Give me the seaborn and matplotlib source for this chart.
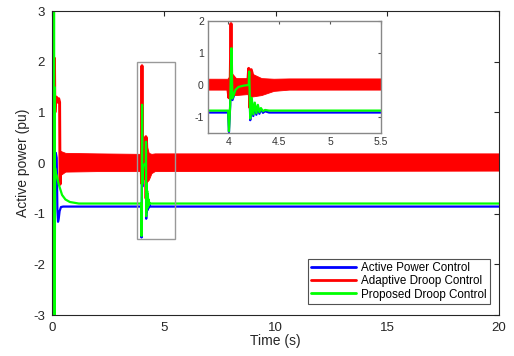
import matplotlib
matplotlib.use("Agg")
import matplotlib.pyplot as plt
import pandas as pd
import seaborn as sns
from matplotlib.patches import Rectangle

# ---- Active Power Control (blue) ----
apc_t = [0, 0.02, 0.04, 0.06, 0.08, 0.10, 0.13, 0.17, 0.21, 0.24, 0.27, 0.30, 0.34, 0.40, 0.50,
         3.998, 4.006, 4.018, 4.030, 4.040, 4.070, 4.100, 4.150, 4.200, 4.205, 4.215, 4.230,
         4.245, 4.260, 4.275, 4.290, 4.305, 4.320, 4.340, 4.360, 4.400, 20]
apc_p = [0, -2.5, 1.8, 2.3, -2.0, 1.0, -0.5, 0.2, 0.1, -0.9, -1.16, -1.1, -0.95, -0.87, -0.86,
         -0.86, -1.47, -0.65, 1.10, -0.47, -0.20, -0.10, -0.05, -0.04, 0.38, -1.10, -0.46,
         -0.97, -0.60, -0.93, -0.67, -0.90, -0.76, -0.87, -0.82, -0.86, -0.86]

# ---- Adaptive Droop Control (red): centre line ----
adc_t = [0, 0.05, 0.11, 0.13, 0.16, 0.20, 0.25, 0.30, 0.34, 0.36, 0.39,
         3.990, 4.005, 4.018, 4.026, 4.035, 4.050, 4.080, 4.120, 4.190, 4.200, 4.210,
         4.225, 4.260, 4.350, 20]
adc_p = [0, 0.5, 2.07, 1.0, 1.25, 1.3, 1.2, 1.27, 1.2, -0.42, 0.02,
         0.02, -0.40, 0.10, 1.92, -0.20, 0.25, 0.00, -0.05, 0.05, 0.52, -0.70,
         0.48, 0.05, 0.00, 0.02]

# ---- Adaptive Droop Control (red): ripple envelope ----
band_t = [0.37, 0.60, 2.00, 3.995, 4.040, 4.080, 4.190, 4.230, 4.330, 4.450, 4.600, 20]
band_hi = [0.24, 0.20, 0.19, 0.18, 0.35, 0.20, 0.20, 0.35, 0.20, 0.18, 0.19, 0.19]
band_lo = [-0.24, -0.17, -0.16, -0.16, -0.32, -0.33, -0.30, -0.38, -0.33, -0.20, -0.16, -0.15]

# ---- Proposed Droop Control (green) ----
pdc_t = [0, 0.01, 0.02, 0.03, 0.04, 0.05, 0.06, 0.07, 0.08, 0.09, 0.10, 0.11, 0.12,
         0.14, 0.17, 0.22, 0.30, 0.45, 0.60, 0.80, 1.20,
         3.998, 4.006, 4.018, 4.030, 4.040, 4.070, 4.100, 4.150, 4.200, 4.205, 4.215, 4.230,
         4.245, 4.260, 4.275, 4.290, 4.305, 4.320, 4.340, 4.360, 4.400, 20]
pdc_p = [0, 3.6, -3.6, 3.6, -3.6, 3.6, -3.6, 3.4, -3.4, 3.0, -3.2, 1.5, -3.0,
         -0.10, -0.20, -0.26, -0.42, -0.63, -0.72, -0.77, -0.80,
         -0.80, -1.44, -0.60, 1.15, -0.42, -0.15, -0.06, -0.02, 0.00, 0.42, -1.05, -0.40,
         -0.92, -0.55, -0.88, -0.62, -0.85, -0.72, -0.82, -0.78, -0.80, -0.80]

labels = ["Active Power Control", "Adaptive Droop Control", "Proposed Droop Control"]
colors = ["#0000ff", "#ff0000", "#00ff00"]

x_ticks = [0, 5, 10, 15, 20]
y_ticks = [-3, -2, -1, 0, 1, 2, 3]
zoom_x_ticks = [4, 4.5, 5, 5.5]
zoom_x_labels = ["4", "4.5", "5", "5.5"]
zoom_y_ticks = [-1, 0, 1, 2]

sns.set_style("white")
plt.rcParams["font.family"] = ["Liberation Sans", "DejaVu Sans"]
plt.rcParams["axes.unicode_minus"] = False

apc = pd.DataFrame({"t": apc_t, "p": apc_p})
adc = pd.DataFrame({"t": adc_t, "p": adc_p})
pdc = pd.DataFrame({"t": pdc_t, "p": pdc_p})

fig = plt.figure(figsize=(5.14, 3.56), dpi=100)
ax = fig.add_axes([52 / 514, 41 / 356, 447 / 514, 304 / 356])


def draw_series(a, lw, with_labels):
    sns.lineplot(data=apc, x="t", y="p", ax=a, color=colors[0], lw=lw, estimator=None,
                 sort=False, label=labels[0] if with_labels else None, legend=False)
    a.fill_between(band_t, band_lo, band_hi, color=colors[1], lw=0.6, zorder=2)
    sns.lineplot(data=adc, x="t", y="p", ax=a, color=colors[1], lw=lw + 0.5, estimator=None,
                 sort=False, label=labels[1] if with_labels else None, legend=False)
    sns.lineplot(data=pdc, x="t", y="p", ax=a, color=colors[2], lw=lw, estimator=None,
                 sort=False, label=labels[2] if with_labels else None, legend=False)


draw_series(ax, 1.6, True)
ax.set_xlim(0, 20)
ax.set_ylim(-3, 3)
ax.set_xticks(x_ticks)
ax.set_yticks(y_ticks)
ax.set_xlabel("Time (s)", fontsize=10, color="#262626", labelpad=0)
ax.set_ylabel("Active power (pu)", fontsize=10, color="#262626", labelpad=2)
ax.tick_params(direction="in", length=3.5, width=0.8, top=True, right=True,
               labelsize=9.5, colors="#262626", pad=5)
for s in ax.spines.values():
    s.set_color("#262626")
    s.set_linewidth(0.8)

# zoom window outline
ax.add_patch(Rectangle((3.8, -1.5), 1.7, 3.5, fill=False, edgecolor="#999999", lw=1.0, zorder=5))

leg = ax.legend(loc="lower right", bbox_to_anchor=(0.98, 0.036), borderaxespad=0,
                fontsize=8.4, handlelength=3.8, handletextpad=0.45, labelspacing=0.1,
                borderpad=0.3, frameon=True, fancybox=False, edgecolor="#262626")
leg.get_frame().set_linewidth(0.8)
for h in leg.legend_handles:
    h.set_linewidth(2)
for txt in leg.get_texts():
    txt.set_color("black")

# inset
ins = fig.add_axes([208 / 514, (356 - 133) / 356, 173 / 514, 112 / 356])
ins.set_facecolor("white")
draw_series(ins, 1.6, False)
ins.set_xlim(3.8, 5.5)
ins.set_ylim(-1.5, 2)
ins.set_xticks(zoom_x_ticks)
ins.set_xticklabels(zoom_x_labels)
ins.set_yticks(zoom_y_ticks)
ins.set_xlabel("")
ins.set_ylabel("")
ins.tick_params(direction="in", length=2.5, width=0.8, top=True, right=True,
                labelsize=7.5, colors="#555555", labelcolor="#333333", pad=3)
for s in ins.spines.values():
    s.set_color("#888888")
    s.set_linewidth(1.0)

fig.savefig("out.png", dpi=100)
